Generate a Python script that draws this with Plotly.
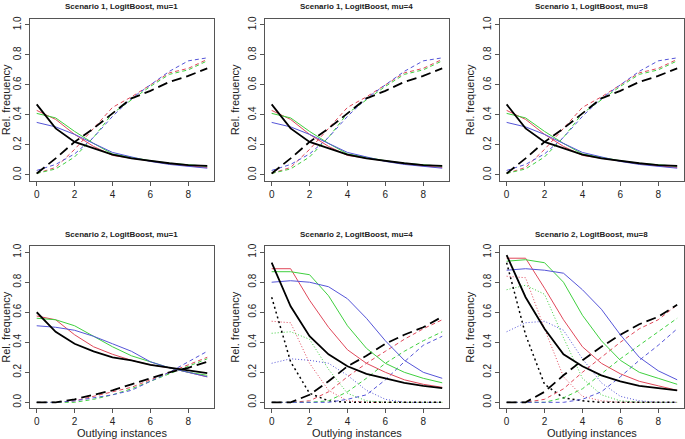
import plotly.graph_objects as go

x_vals = list(range(10))

# Scenario 1 (identical for mu=1, 4, 8)
s1_solid_black = [0.47, 0.31, 0.22, 0.18, 0.135, 0.11, 0.093, 0.078, 0.066, 0.06]
s1_solid_red = [0.43, 0.37, 0.27, 0.19, 0.13, 0.11, 0.09, 0.075, 0.06, 0.05]
s1_solid_green = [0.41, 0.38, 0.29, 0.21, 0.14, 0.115, 0.095, 0.078, 0.068, 0.058]
s1_solid_blue = [0.35, 0.32, 0.27, 0.21, 0.15, 0.12, 0.09, 0.07, 0.055, 0.045]
s1_dash_black = [0.01, 0.11, 0.22, 0.31, 0.41, 0.51, 0.56, 0.62, 0.66, 0.71]
s1_dash_red = [0.01, 0.05, 0.17, 0.31, 0.45, 0.52, 0.60, 0.68, 0.71, 0.77]
s1_dash_green = [0.01, 0.04, 0.12, 0.25, 0.41, 0.50, 0.59, 0.67, 0.70, 0.76]
s1_dash_blue = [0.03, 0.07, 0.14, 0.25, 0.39, 0.51, 0.60, 0.69, 0.76, 0.78]

# Scenario 2, mu=1
s2m1_solid_black = [0.60, 0.47, 0.39, 0.34, 0.30, 0.28, 0.25, 0.23, 0.21, 0.195]
s2m1_solid_red = [0.575, 0.55, 0.45, 0.37, 0.32, 0.28, 0.25, 0.23, 0.20, 0.17]
s2m1_solid_green = [0.56, 0.55, 0.51, 0.44, 0.37, 0.31, 0.27, 0.23, 0.20, 0.18]
s2m1_solid_blue = [0.51, 0.50, 0.48, 0.44, 0.39, 0.34, 0.27, 0.23, 0.20, 0.17]
s2m1_dash_black = [0.0, 0.0, 0.02, 0.05, 0.08, 0.12, 0.16, 0.20, 0.23, 0.27]
s2m1_dash_red = [0.0, 0.0, 0.01, 0.04, 0.07, 0.10, 0.15, 0.20, 0.25, 0.30]
s2m1_dash_green = [0.0, 0.0, 0.0, 0.02, 0.05, 0.09, 0.14, 0.19, 0.24, 0.29]
s2m1_dash_blue = [0.0, 0.0, 0.01, 0.03, 0.05, 0.08, 0.14, 0.20, 0.27, 0.34]

# Scenario 2, mu=4
s2m4_solid_black = [0.93, 0.64, 0.44, 0.32, 0.24, 0.19, 0.16, 0.13, 0.11, 0.095]
s2m4_solid_red = [0.89, 0.89, 0.68, 0.50, 0.35, 0.26, 0.20, 0.15, 0.12, 0.10]
s2m4_solid_green = [0.87, 0.87, 0.85, 0.71, 0.51, 0.36, 0.26, 0.20, 0.16, 0.13]
s2m4_solid_blue = [0.80, 0.81, 0.80, 0.77, 0.69, 0.56, 0.41, 0.28, 0.20, 0.16]
s2m4_dash_black = [0.0, 0.0, 0.05, 0.14, 0.24, 0.31, 0.39, 0.45, 0.50, 0.57]
s2m4_dash_red = [0.0, 0.0, 0.01, 0.07, 0.17, 0.26, 0.34, 0.42, 0.49, 0.55]
s2m4_dash_green = [0.0, 0.0, 0.0, 0.01, 0.07, 0.16, 0.26, 0.34, 0.41, 0.47]
s2m4_dash_blue = [0.0, 0.0, 0.0, 0.0, 0.02, 0.05, 0.15, 0.27, 0.38, 0.44]
s2m4_dot_black = [0.70, 0.27, 0.06, 0.01, 0.0, 0.0, 0.0, 0.0, 0.0, 0.0]
s2m4_dot_red = [0.54, 0.53, 0.26, 0.08, 0.01, 0.0, 0.0, 0.0, 0.0, 0.0]
s2m4_dot_green = [0.46, 0.47, 0.42, 0.22, 0.06, 0.01, 0.0, 0.0, 0.0, 0.0]
s2m4_dot_blue = [0.26, 0.29, 0.28, 0.26, 0.18, 0.08, 0.02, 0.0, 0.0, 0.0]

# Scenario 2, mu=8
s2m8_solid_black = [0.98, 0.70, 0.49, 0.32, 0.24, 0.18, 0.14, 0.11, 0.095, 0.08]
s2m8_solid_red = [0.96, 0.96, 0.76, 0.55, 0.37, 0.26, 0.19, 0.14, 0.11, 0.08]
s2m8_solid_green = [0.94, 0.95, 0.93, 0.80, 0.58, 0.41, 0.28, 0.20, 0.16, 0.12]
s2m8_solid_blue = [0.88, 0.89, 0.88, 0.86, 0.75, 0.62, 0.45, 0.30, 0.21, 0.15]
s2m8_dash_black = [0.0, 0.0, 0.07, 0.18, 0.28, 0.37, 0.45, 0.52, 0.57, 0.65]
s2m8_dash_red = [0.0, 0.0, 0.02, 0.09, 0.20, 0.30, 0.40, 0.49, 0.55, 0.65]
s2m8_dash_green = [0.0, 0.0, 0.0, 0.03, 0.09, 0.19, 0.29, 0.38, 0.47, 0.56]
s2m8_dash_blue = [0.0, 0.0, 0.0, 0.0, 0.02, 0.07, 0.17, 0.28, 0.38, 0.49]
s2m8_dot_black = [0.93, 0.45, 0.12, 0.03, 0.01, 0.0, 0.0, 0.0, 0.0, 0.0]
s2m8_dot_red = [0.84, 0.83, 0.49, 0.17, 0.04, 0.01, 0.0, 0.0, 0.0, 0.0]
s2m8_dot_green = [0.75, 0.78, 0.72, 0.43, 0.16, 0.05, 0.01, 0.0, 0.0, 0.0]
s2m8_dot_blue = [0.47, 0.53, 0.54, 0.48, 0.29, 0.13, 0.04, 0.01, 0.0, 0.0]

titles = ["Scenario 1, LogitBoost, mu=1", "Scenario 1, LogitBoost, mu=4",
          "Scenario 1, LogitBoost, mu=8", "Scenario 2, LogitBoost, mu=1",
          "Scenario 2, LogitBoost, mu=4", "Scenario 2, LogitBoost, mu=8"]
x_title = "Outlying instances"
y_title = "Rel. frequency"
x_ticks = [0, 2, 4, 6, 8]
y_ticks = [0.0, 0.2, 0.4, 0.6, 0.8, 1.0]

COL = {"black": "#000000", "red": "#E0485A", "green": "#3FD03F", "blue": "#5555D8"}

s1 = {"solid": [s1_solid_black, s1_solid_red, s1_solid_green, s1_solid_blue],
      "dash": [s1_dash_black, s1_dash_red, s1_dash_green, s1_dash_blue]}
panels = [
    s1, s1, s1,
    {"solid": [s2m1_solid_black, s2m1_solid_red, s2m1_solid_green, s2m1_solid_blue],
     "dash": [s2m1_dash_black, s2m1_dash_red, s2m1_dash_green, s2m1_dash_blue]},
    {"solid": [s2m4_solid_black, s2m4_solid_red, s2m4_solid_green, s2m4_solid_blue],
     "dash": [s2m4_dash_black, s2m4_dash_red, s2m4_dash_green, s2m4_dash_blue],
     "dot": [s2m4_dot_black, s2m4_dot_red, s2m4_dot_green, s2m4_dot_blue]},
    {"solid": [s2m8_solid_black, s2m8_solid_red, s2m8_solid_green, s2m8_solid_blue],
     "dash": [s2m8_dash_black, s2m8_dash_red, s2m8_dash_green, s2m8_dash_blue],
     "dot": [s2m8_dot_black, s2m8_dot_red, s2m8_dot_green, s2m8_dot_blue]},
]

W, H = 685, 439
col_x = [(27, 212), (263, 448), (499, 684)]
row_y = [(16, 180), (246, 410)]

fig = go.Figure()
layout = {}
font_family = "Liberation Sans, Arial, sans-serif"
annotations = []

for i, pdata in enumerate(panels):
    r, c = divmod(i, 3)
    idx = i + 1
    xa = "x" if idx == 1 else f"x{idx}"
    ya = "y" if idx == 1 else f"y{idx}"
    cols = ["black", "red", "green", "blue"]
    for style in ["dot", "dash", "solid"]:
        if style not in pdata:
            continue
        series = pdata[style]
        for k in [1, 2, 3, 0]:
            cname = cols[k]
            width = 1.8 if cname == "black" else 1
            if style == "solid":
                dash = "solid"
            elif style == "dash":
                dash = "10px,5px" if cname == "black" else "4px,3px"
            else:
                dash = "2px,3px" if cname == "black" else "1px,2px"
            if style == "dot" and cname == "black":
                width = 1.5
            fig.add_trace(go.Scatter(
                x=x_vals, y=series[k], mode="lines", xaxis=xa, yaxis=ya,
                line=dict(color=COL[cname], width=width, dash=dash),
                showlegend=False, hoverinfo="skip"))
    x0, x1 = col_x[c]
    y0, y1 = row_y[r]
    axis_common = dict(showline=True, mirror=True, linecolor="#555555", linewidth=1,
                       ticks="outside", ticklen=4, tickcolor="#555555",
                       showgrid=False, zeroline=False,
                       tickfont=dict(family=font_family, size=10, color="#222222"))
    layout["xaxis" if idx == 1 else f"xaxis{idx}"] = dict(
        axis_common, domain=[x0 / W, x1 / W], range=[-0.36, 9.36],
        anchor=ya, tickvals=x_ticks, ticktext=[str(t) for t in x_ticks],
        title=dict(text=x_title if r == 1 else "", standoff=4,
                   font=dict(family=font_family, size=11, color="#222222")))
    layout["yaxis" if idx == 1 else f"yaxis{idx}"] = dict(
        axis_common, domain=[1 - y1 / H, 1 - y0 / H], range=[-0.04, 1.04],
        anchor=xa, tickvals=y_ticks, ticktext=[f"{t:.1f}" for t in y_ticks],
        tickangle=-90,
        title=dict(text=y_title, standoff=4,
                   font=dict(family=font_family, size=11, color="#222222")))
    annotations.append(dict(
        text=f"<b>{titles[i]}</b>", x=(x0 + x1) / 2 / W, y=1 - (y0 - 12) / H,
        xref="paper", yref="paper", showarrow=False, xanchor="center", yanchor="middle",
        font=dict(family=font_family, size=8, color="#222222")))

fig.update_layout(
    width=W, height=H, margin=dict(l=0, r=0, t=0, b=0),
    paper_bgcolor="white", plot_bgcolor="white",
    annotations=annotations, **layout)

fig.write_html("out.html", config={"displayModeBar": False, "staticPlot": True},
               post_script="document.body.style.margin='0';document.body.style.padding='0';"
                           "document.body.style.overflow='hidden';")
